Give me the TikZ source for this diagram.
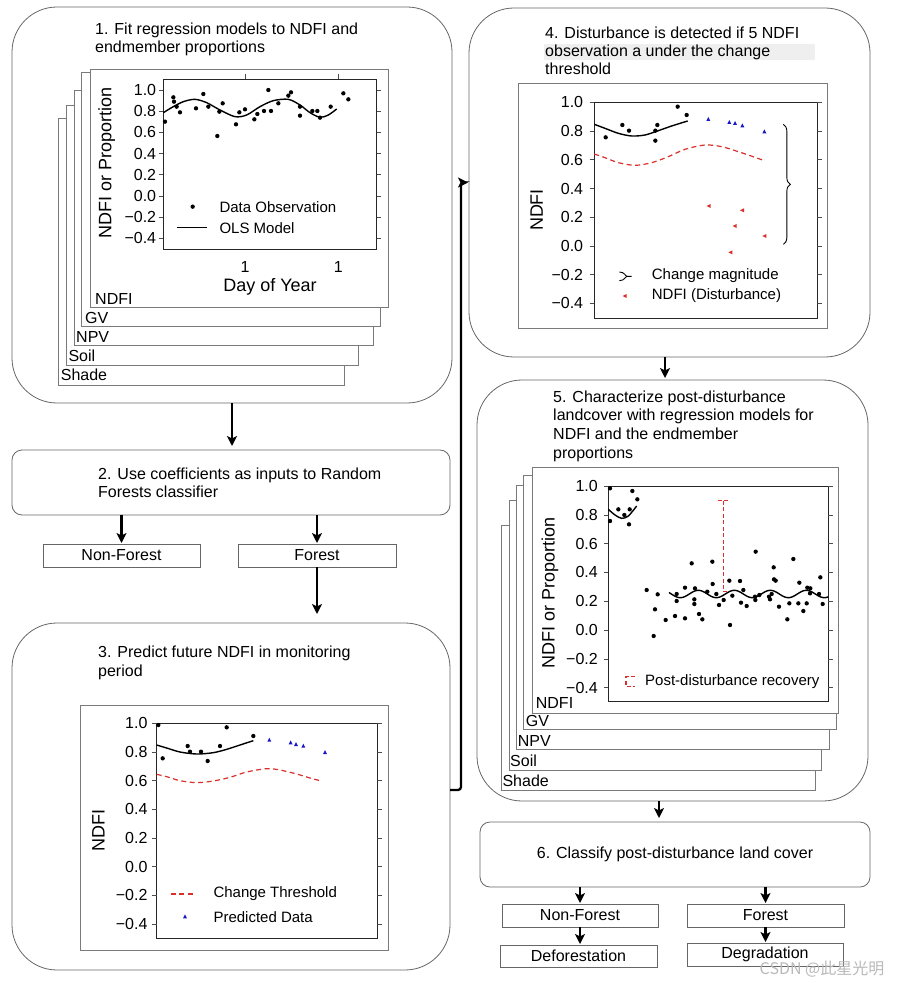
\documentclass[tikz,border=0pt]{standalone}
\usepackage{fontspec}
\setmainfont{Liberation Sans}
\newfontfamily\cjkfont{Noto Sans CJK SC}
\usetikzlibrary{arrows.meta,decorations.pathreplacing,calc}
\definecolor{pgray}{HTML}{666666}
\definecolor{fgray}{HTML}{7A7A7A}
\definecolor{myred}{HTML}{D9302C}
\definecolor{myblue}{HTML}{1818C8}
\definecolor{hl}{HTML}{EFEFEF}
\newcommand\myfs[1]{\fontsize{#1}{#1}\selectfont}
\tikzset{
  panel/.style={draw=pgray, line width=0.8pt, rounded corners=45pt, inner sep=0pt, outer sep=0pt},
  rpanel/.style={draw=pgray, line width=0.8pt, rounded corners=10pt, inner sep=0pt, outer sep=0pt, font=\myfs{16}},
  sbox/.style={draw=pgray, line width=0.8pt, inner sep=0pt, outer sep=0pt, font=\myfs{16}},
  ttl/.style={font=\myfs{16}, anchor=base west, inner sep=0pt},
  arr/.style={line width=2.3pt, -{Stealth[length=10pt, width=10pt, inset=2.5pt]}},
  frame/.style={draw=fgray, fill=white, line width=0.8pt},
  axisbox/.style={draw=black!85, line width=0.9pt},
  axisline/.style={draw=black!70, line width=0.6pt},
  ticklab/.style={font=\myfs{16}, inner sep=1pt},
  axlab/.style={font=\myfs{18}, inner sep=0pt},
  leglab/.style={font=\myfs{15}, anchor=west, inner sep=0pt},
  stacklab/.style={font=\myfs{16}, anchor=base west, inner sep=0pt},
  fitline/.style={draw=black, line width=1.4pt},
  thr/.style={draw=myred, line width=1.2pt, dash pattern=on 5pt off 3.5pt},
  rbar/.style={draw=myred, line width=1.5pt, dash pattern=on 4pt off 2.5pt},
}
% #1 y at 1.0, #2 units per 1.0, #3 label east x, #4 left axis x, #5 right axis x, #6 name prefix, #7 tick length
\newcommand{\mkyaxis}[7]{%
  \foreach \v/\lab [count=\i] in {1.0/1.0,0.8/0.8,0.6/0.6,0.4/0.4,0.2/0.2,0.0/0.0,-0.2/{−0.2},-0.4/{−0.4}}{%
    \pgfmathsetmacro\yy{#1+(1-(\v))*#2}
    \draw[axisline] (#4-#7,\yy) -- (#4,\yy);
    \draw[axisline] (#5,\yy) -- (#5+#7,\yy);
    \node[ticklab, anchor=east] (#6\i) at (#3,\yy) {\lab};
  }}
\newcommand\btri[2]{\fill[myblue] (#1,#2) ++(0,-7) -- ++(6,12) -- ++(-12,0) -- cycle;}
\newcommand\rtri[2]{\fill[myred] (#1,#2) ++(-7,0) -- ++(12,-6) -- ++(0,12) -- cycle;}

\begin{document}
\begin{tikzpicture}[x=1pt,y=-1pt]
\useasboundingbox (0,0) rectangle (900,981);

% ---------------- panels and boxes ----------------
\node[panel, minimum width=440pt, minimum height=396pt] (p1) at (232,205) {};
\node[rpanel, minimum width=438pt, minimum height=65pt] (p2) at (231,482.5) {};
\node[sbox, minimum width=157pt, minimum height=23pt] (nf1) at (121.5,555.5) {Non-Forest};
\node[sbox, minimum width=158pt, minimum height=23pt] (f1) at (317,555.5) {Forest};
\node[panel, minimum width=438pt, minimum height=347pt] (p3) at (231,796.5) {};
\node[panel, minimum width=401pt, minimum height=349pt] (p4) at (669.5,182.5) {};
\node[panel, minimum width=391pt, minimum height=421pt] (p5) at (672.5,590.5) {};
\node[rpanel, minimum width=390pt, minimum height=65pt] (p6) at (675,854.5) {6. Classify post-disturbance land cover};
\node[sbox, minimum width=156pt, minimum height=23pt] (nf2) at (580,915.5) {Non-Forest};
\node[sbox, minimum width=157pt, minimum height=23pt] (f2) at (765.5,915.5) {Forest};
\node[sbox, minimum width=157pt, minimum height=22pt] (dfr) at (578.5,956) {Deforestation};
\node[sbox, minimum width=156pt, minimum height=23pt] (dgr) at (765,954.5) {Degradation};

% ---------------- titles ----------------
\node[ttl] (t1a) at (95,35) {1. Fit regression models to NDFI and};
\node[ttl] (t1b) at (95,52.5) {endmember proportions};
\node[ttl] (t2a) at (98,479) {2. Use coefficients as inputs to Random};
\node[ttl] (t2b) at (98,497) {Forests classifier};
\node[ttl] (t3a) at (98,657) {3. Predict future NDFI in monitoring};
\node[ttl] (t3b) at (98,676) {period};
\fill[hl] (544,44) rectangle (815,60);
\node[ttl] (t4a) at (545,39) {4. Disturbance is detected if 5 NDFI};
\node[ttl] (t4b) at (545,57) {observation a under the change};
\node[ttl] (t4c) at (545,75) {threshold};
\node[ttl] (t5a) at (553,402) {5. Characterize post-disturbance};
\node[ttl] (t5b) at (553,420) {landcover with regression models for};
\node[ttl] (t5c) at (553,439) {NDFI and the endmember};
\node[ttl] (t5d) at (553,458) {proportions};

% ---------------- connectors ----------------
\draw[arr, shorten >=4pt] (p1.south) -- (p1.south |- p2.north);
\draw[arr, shorten >=1pt] (nf1.north |- p2.south) -- (nf1.north);
\draw[arr, shorten >=1pt] (f1.north |- p2.south) -- (f1.north);
\draw[arr, shorten >=9pt] (f1.south) -- (f1.south |- p3.north);
\draw[arr, rounded corners=3pt, shorten >=1pt] ([yshift=6.5pt]p3.east) -- ++(11,0) |- (p4.west);
\draw[arr, shorten >=2pt] ([xshift=-4.5pt]p4.south) -- ([xshift=-4.5pt]p4.south |- p5.north);
\draw[arr, shorten >=4pt] ([xshift=-13.5pt]p5.south) -- ([xshift=-13.5pt]p5.south |- p6.north);
\draw[arr, shorten >=1pt] (nf2.north |- p6.south) -- (nf2.north);
\draw[arr, shorten >=1pt] (f2.north |- p6.south) -- (f2.north);
\draw[arr, shorten >=1pt] (nf2.south) -- (nf2.south |- dfr.north);
\draw[arr, shorten >=1pt] (f2.south) -- (f2.south |- dgr.north);

% ---------------- plot 1 ----------------
\begin{scope}[xshift=60pt,yshift=-60pt,x=0.33333pt,y=-0.33333pt]
  \draw[frame] (-6,175) rectangle (852,975);
  \node[stacklab] (s1e) at (2,963) {Shade};
  \draw[frame] (18,137) rectangle (895,917);
  \node[stacklab] (s1d) at (25,905) {Soil};
  \draw[frame] (42,90) rectangle (940,857);
  \node[stacklab] (s1c) at (48,848) {NPV};
  \draw[frame] (63,37) rectangle (962,800);
  \node[stacklab] (s1b) at (75,790) {GV};
  \draw[frame] (90,27) rectangle (985,742);
  \node[stacklab] (s1a) at (105,733) {NDFI};
  \draw[axisbox] (310,57) rectangle (950,568);
  \mkyaxis{90}{318}{292}{310}{950}{a}{14}
  \draw[axisline] (555,57) -- (555,43);
  \draw[axisline] (835,57) -- (835,43);
  \node[ticklab] (x1a) at (555,622) {1};
  \node[ticklab] (x1b) at (835,622) {1};
  \node[axlab] (x1l) at (630,682) {Day of Year};
  \node[axlab, rotate=90] (y1l) at (140,310) {NDFI or Proportion};
  \draw[fitline] plot[smooth] coordinates {(310,158) (340,140) (370,125) (405,118) (440,128) (480,150) (525,170) (560,165) (600,140) (640,122) (685,118) (720,135) (750,158) (780,172) (805,165) (830,147)};
  \foreach \p in {(315,185),(340,112),(342,125),(350,140),(360,157),(408,145),(430,102),(445,140),(472,228),(478,155),(488,130),(528,193),(538,157),(555,148),(583,178),(592,162),(612,153),(625,90),(633,153),(655,130),(685,107),(693,97),(720,140),(720,167),(757,153),(772,153),(780,173),(812,140),(850,100),(865,118)}
    \fill \p circle[radius=6.5];
  \fill (398,440) circle[radius=6.5];
  \draw[fitline] (350,503) -- (440,503);
  \node[leglab] (l1a) at (478,440) {Data Observation};
  \node[leglab] (l1b) at (478,503) {OLS Model};
\end{scope}

% ---------------- plot 3 ----------------
\begin{scope}[xshift=80pt,yshift=-690pt,x=0.33333pt,y=-0.33333pt]
  \draw[frame] (0,45) rectangle (924,780);
  \draw[axisbox] (230,100) rectangle (891,744);
  \mkyaxis{100}{430}{206}{230}{891}{c}{14}
  \node[axlab, rotate=90] (y3l) at (55,420) {NDFI};
  \draw[fitline] plot[smooth] coordinates {(230,165) (260,174) (300,186) (350,192) (400,188) (440,178) (480,165) (520,152)};
  \draw[thr] plot[smooth] coordinates {(230,253) (260,260) (300,272) (350,278) (400,273) (450,262) (500,246) (560,236) (600,240) (650,252) (690,264) (720,272)};
  \foreach \p in {(235,105),(248,205),(323,168),(330,185),(363,185),(383,213),(420,168),(440,112),(520,138)}
    \fill \p circle[radius=6.5];
  \btri{568}{150}\btri{632}{158}\btri{648}{163}\btri{670}{168}\btri{735}{187}
  \draw[thr] (272,612) -- (345,612);
  \node[leglab] (l3a) at (400,612) {Change Threshold};
  \btri{315}{680}
  \node[leglab] (l3b) at (400,680) {Predicted Data};
\end{scope}

% ---------------- plot 4 ----------------
\begin{scope}[xshift=505pt,yshift=-80pt,x=0.33333pt,y=-0.33333pt]
  \draw[frame] (39,9) rectangle (966,744);
  \draw[axisbox] (268,67) rectangle (936,715);
  \mkyaxis{67}{431}{238}{268}{936}{d}{14}
  \node[axlab, rotate=90] (y4l) at (95,390) {NDFI};
  \draw[fitline] plot[smooth] coordinates {(268,133) (300,145) (340,160) (380,168) (420,165) (460,152) (500,138) (548,123)};
  \draw[thr] plot[smooth] coordinates {(268,222) (300,233) (340,248) (390,256) (440,248) (490,230) (540,208) (600,195) (650,200) (700,215) (750,232) (780,243)};
  \foreach \p in {(302,172),(352,135),(372,152),(451,152),(451,182),(457,135),(518,80),(545,105)}
    \fill \p circle[radius=6.5];
  \btri{610}{118}\btri{673}{127}\btri{690}{130}\btri{712}{137}\btri{778}{155}
  \rtri{612}{378}\rtri{690}{438}\rtri{712}{391}\rtri{677}{517}\rtri{779}{468}
  \draw[line width=0.9pt, decorate, decoration={brace, amplitude=7pt}] (835,133) -- (835,493);
  \draw[line width=0.9pt] (343,576) .. controls (360,576) and (360,589) .. (367,589) -- (380,589);
  \draw[line width=0.9pt] (367,589) .. controls (360,589) and (360,602) .. (343,602);
  \node[leglab] (l4a) at (440,588) {Change magnitude};
  \rtri{360}{648}
  \node[leglab] (l4b) at (440,648) {NDFI (Disturbance)};
\end{scope}

% ---------------- plot 5 ----------------
\begin{scope}[xshift=495pt,yshift=-460pt,x=0.33333pt,y=-0.33333pt]
  \draw[frame] (18,195) rectangle (960,990);
  \node[stacklab] (s5e) at (22,978) {Shade};
  \draw[frame] (42,120) rectangle (980,930);
  \node[stacklab] (s5d) at (45,918) {Soil};
  \draw[frame] (65,75) rectangle (1003,868);
  \node[stacklab] (s5c) at (68,858) {NPV};
  \draw[frame] (85,45) rectangle (1025,808);
  \node[stacklab] (s5b) at (92,800) {GV};
  \draw[frame] (113,22) rectangle (1030,760);
  \node[stacklab] (s5a) at (122,745) {NDFI};
  \draw[axisbox] (340,78) rectangle (1000,725);
  \mkyaxis{78}{432}{312}{340}{1000}{e}{14}
  \node[axlab, rotate=90] (y5l) at (165,400) {NDFI or Proportion};
  \draw[fitline] plot[smooth] coordinates {(340,148) (360,165) (380,175) (400,168) (425,138)};
  \draw[fitline] plot[domain=522:1000, samples=120, smooth] (\x,{402-11*cos((\x-610)*3.3333)});
  \foreach \p in {(345,85),(345,183),(370,148),(388,165),(402,193),(404,148),(412,93),(427,118),
    (455,390),(480,448),(476,528),(488,403),(512,480),(540,468),(545,402),(545,423),(570,383),(570,475),(590,310),(600,385),(598,418),(598,432),(612,462),(622,478),(637,395),(652,305),(653,372),(664,402),(672,435),(686,420),(703,362),(705,495),(712,407),(735,363),(738,428),(745,390),(755,438),(780,410),(781,420),(782,275),(793,405),(822,410),(825,418),(830,402),(836,322),(837,358),(842,362),(852,440),(877,478),(883,430),(895,297),(913,368),(910,430),(925,453),(935,430),(937,383),(946,385),(945,400),(972,402),(976,352),(983,432)}
    \fill \p circle[radius=6.5];
  \draw[rbar] (668,122) -- (703,122);
  \draw[rbar] (685,122) -- (685,395) -- (703,395);
  \draw[rbar] (420,650) -- (393,650) -- (393,680) -- (420,680);
  \node[leglab] (l5a) at (450,665) {Post-disturbance recovery};
\end{scope}

% watermark
\node[font=\cjkfont\myfs{16}, text=gray!55, inner sep=0pt] (wm) at (822,969) {CSDN @此星光明};
\end{tikzpicture}
\end{document}
